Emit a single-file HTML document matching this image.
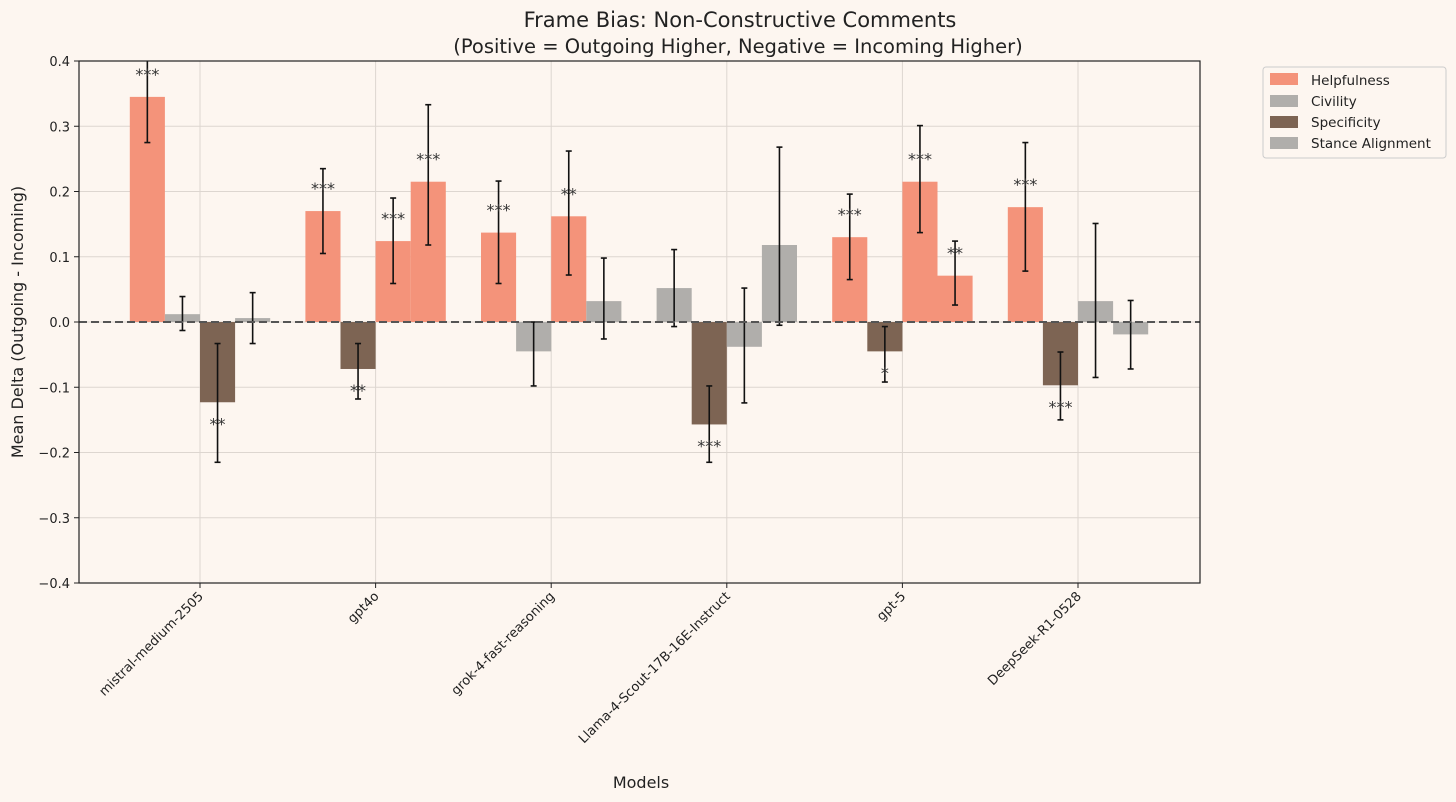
<!DOCTYPE html>
<html><head><meta charset="utf-8"><style>
body{margin:0;background:#fdf6f0;}
svg{display:block;font-family:"DejaVu Sans","Liberation Sans",sans-serif;}
</style></head><body>
<svg id="chart" width="1456" height="802" viewBox="0 0 1456 802">
<rect width="1456" height="802" fill="#fdf6f0"/>
<text x="740" y="27" text-anchor="middle" font-size="21" fill="#222">Frame Bias: Non-Constructive Comments</text>
<text x="738" y="53" text-anchor="middle" font-size="19.5" fill="#222">(Positive = Outgoing Higher, Negative = Incoming Higher)</text>
<g id="grid"></g><g id="bars"></g><g id="axes"></g>
<text x="641" y="788" text-anchor="middle" font-size="16" fill="#222">Models</text>
<text transform="translate(23,322) rotate(-90)" text-anchor="middle" font-size="16" fill="#222">Mean Delta (Outgoing - Incoming)</text>
<g>
<rect x="1263" y="67" width="183" height="91" rx="3" fill="#fdf6f0" stroke="#ccc"/>
<rect x="1270" y="73" width="28" height="12" fill="#f4937a"/>
<text x="1311" y="85" font-size="13.5" fill="#222">Helpfulness</text>
<rect x="1270" y="95" width="28" height="12" fill="#b0aeab"/>
<text x="1311" y="106" font-size="13.5" fill="#222">Civility</text>
<rect x="1270" y="116" width="28" height="12" fill="#7d6453"/>
<text x="1311" y="127" font-size="13.5" fill="#222">Specificity</text>
<rect x="1270" y="137" width="28" height="12" fill="#b0aeab"/>
<text x="1311" y="148" font-size="13.5" fill="#222">Stance Alignment</text>
</g>
</svg>
<script>
const models = ["mistral-medium-2505","gpt4o","grok-4-fast-reasoning","Llama-4-Scout-17B-16E-Instruct","gpt-5","DeepSeek-R1-0528"];
const values = [[0.345,0.012,-0.123,0.006],[0.17,-0.072,0.124,0.215],[0.137,-0.045,0.162,0.032],[0.052,-0.157,-0.038,0.118],[0.13,-0.045,0.215,0.071],[0.176,-0.097,0.032,-0.019]];
const errLow = [[0.275,-0.013,-0.215,-0.033],[0.105,-0.118,0.059,0.118],[0.059,-0.098,0.072,-0.026],[-0.007,-0.215,-0.124,-0.005],[0.065,-0.092,0.137,0.026],[0.078,-0.15,-0.085,-0.072]];
const errHigh = [[0.405,0.039,-0.033,0.045],[0.235,-0.033,0.19,0.333],[0.216,0,0.262,0.098],[0.111,-0.098,0.052,0.268],[0.196,-0.007,0.301,0.124],[0.275,-0.046,0.151,0.033]];
const colorKeys = [["h","c","s","c"],["h","s","h","h"],["h","c","h","c"],["c","s","c","c"],["h","s","h","h"],["h","s","c","c"]];
const sigLabels = [["***","","**",""],["***","**","***","***"],["***","","**",""],["","***","",""],["***","*","***","**"],["***","***","",""]];
const yTicks = [0.4,0.3,0.2,0.1,0.0,-0.1,-0.2,-0.3,-0.4];
const yTickLabels = ["0.4","0.3","0.2","0.1","0.0","\u22120.1","\u22120.2","\u22120.3","\u22120.4"];
const palette = {h:"#f4937a",c:"#b0aeab",s:"#7d6453"};
const L=79,R=1200,T=61,B=583;
const y = v => T + (0.4 - v)/0.8*(B-T);
const gx = i => 200 + i*175.6;
const bw = 35.1;
const NS="http://www.w3.org/2000/svg";
function mk(tag,attrs,parent){const e=document.createElementNS(NS,tag);for(const k in attrs)e.setAttribute(k,attrs[k]);parent.appendChild(e);return e;}
const grid=document.getElementById('grid'),bars=document.getElementById('bars'),axes=document.getElementById('axes');
mk('rect',{x:L,y:T,width:R-L,height:B-T,fill:"#fdf6f0"},grid);
yTicks.forEach((t,k)=>{
  const g=mk('line',{x1:L,x2:R,y1:y(t),y2:y(t),stroke:"#ddd6d0","stroke-width":1},grid);
  
  
  mk('line',{x1:L-5,x2:L,y1:y(t),y2:y(t),stroke:"#222"},axes);
  const tx=mk('text',{x:L-9,y:y(t)+5,"text-anchor":"end","font-size":13,fill:"#222"},axes);
  tx.textContent=yTickLabels[k];
  
  
});
models.forEach((m,i)=>{
  const cx=gx(i);
  mk('line',{x1:cx,x2:cx,y1:T,y2:B,stroke:"#ddd6d0","stroke-width":1},grid);
  mk('line',{x1:cx,x2:cx,y1:B,y2:B+5,stroke:"#222"},axes);
  const lab=mk('text',{x:cx+4,y:B+14,"text-anchor":"end","font-size":13,fill:"#222",transform:`rotate(-45 ${cx+4} ${B+14})`},axes);
  lab.textContent=m;
  
  
  values[i].forEach((v,j)=>{
    const bx=cx+(j-2)*bw;
    const r=mk('rect',{x:bx,y:Math.min(y(v),y(0)),width:bw,height:Math.abs(y(v)-y(0)),fill:palette[colorKeys[i][j]]},bars);
    
    
    const ex=bx+bw/2, lo=Math.max(y(errHigh[i][j]),T);
    mk('line',{x1:ex,x2:ex,y1:lo,y2:y(errLow[i][j]),stroke:"#111","stroke-width":1.6},bars);
    if(errHigh[i][j]<=0.4) mk('line',{x1:ex-3,x2:ex+3,y1:y(errHigh[i][j]),y2:y(errHigh[i][j]),stroke:"#111","stroke-width":1.6},bars);
    mk('line',{x1:ex-3,x2:ex+3,y1:y(errLow[i][j]),y2:y(errLow[i][j]),stroke:"#111","stroke-width":1.6},bars);
    if(sigLabels[i][j]){
      const st=mk('text',{x:ex,y:v>=0?y(v)-17:y(v)+27,"text-anchor":"middle","font-size":16,fill:"#333"},bars);
      st.textContent=sigLabels[i][j];
      
      
    }
  });
});
mk('line',{x1:L,x2:R,y1:y(0),y2:y(0),stroke:"#555","stroke-width":2,"stroke-dasharray":"8,4"},axes);
mk('rect',{x:L,y:T,width:R-L,height:B-T,fill:"none",stroke:"#222","stroke-width":1.2},axes);
</script>
</body></html>
